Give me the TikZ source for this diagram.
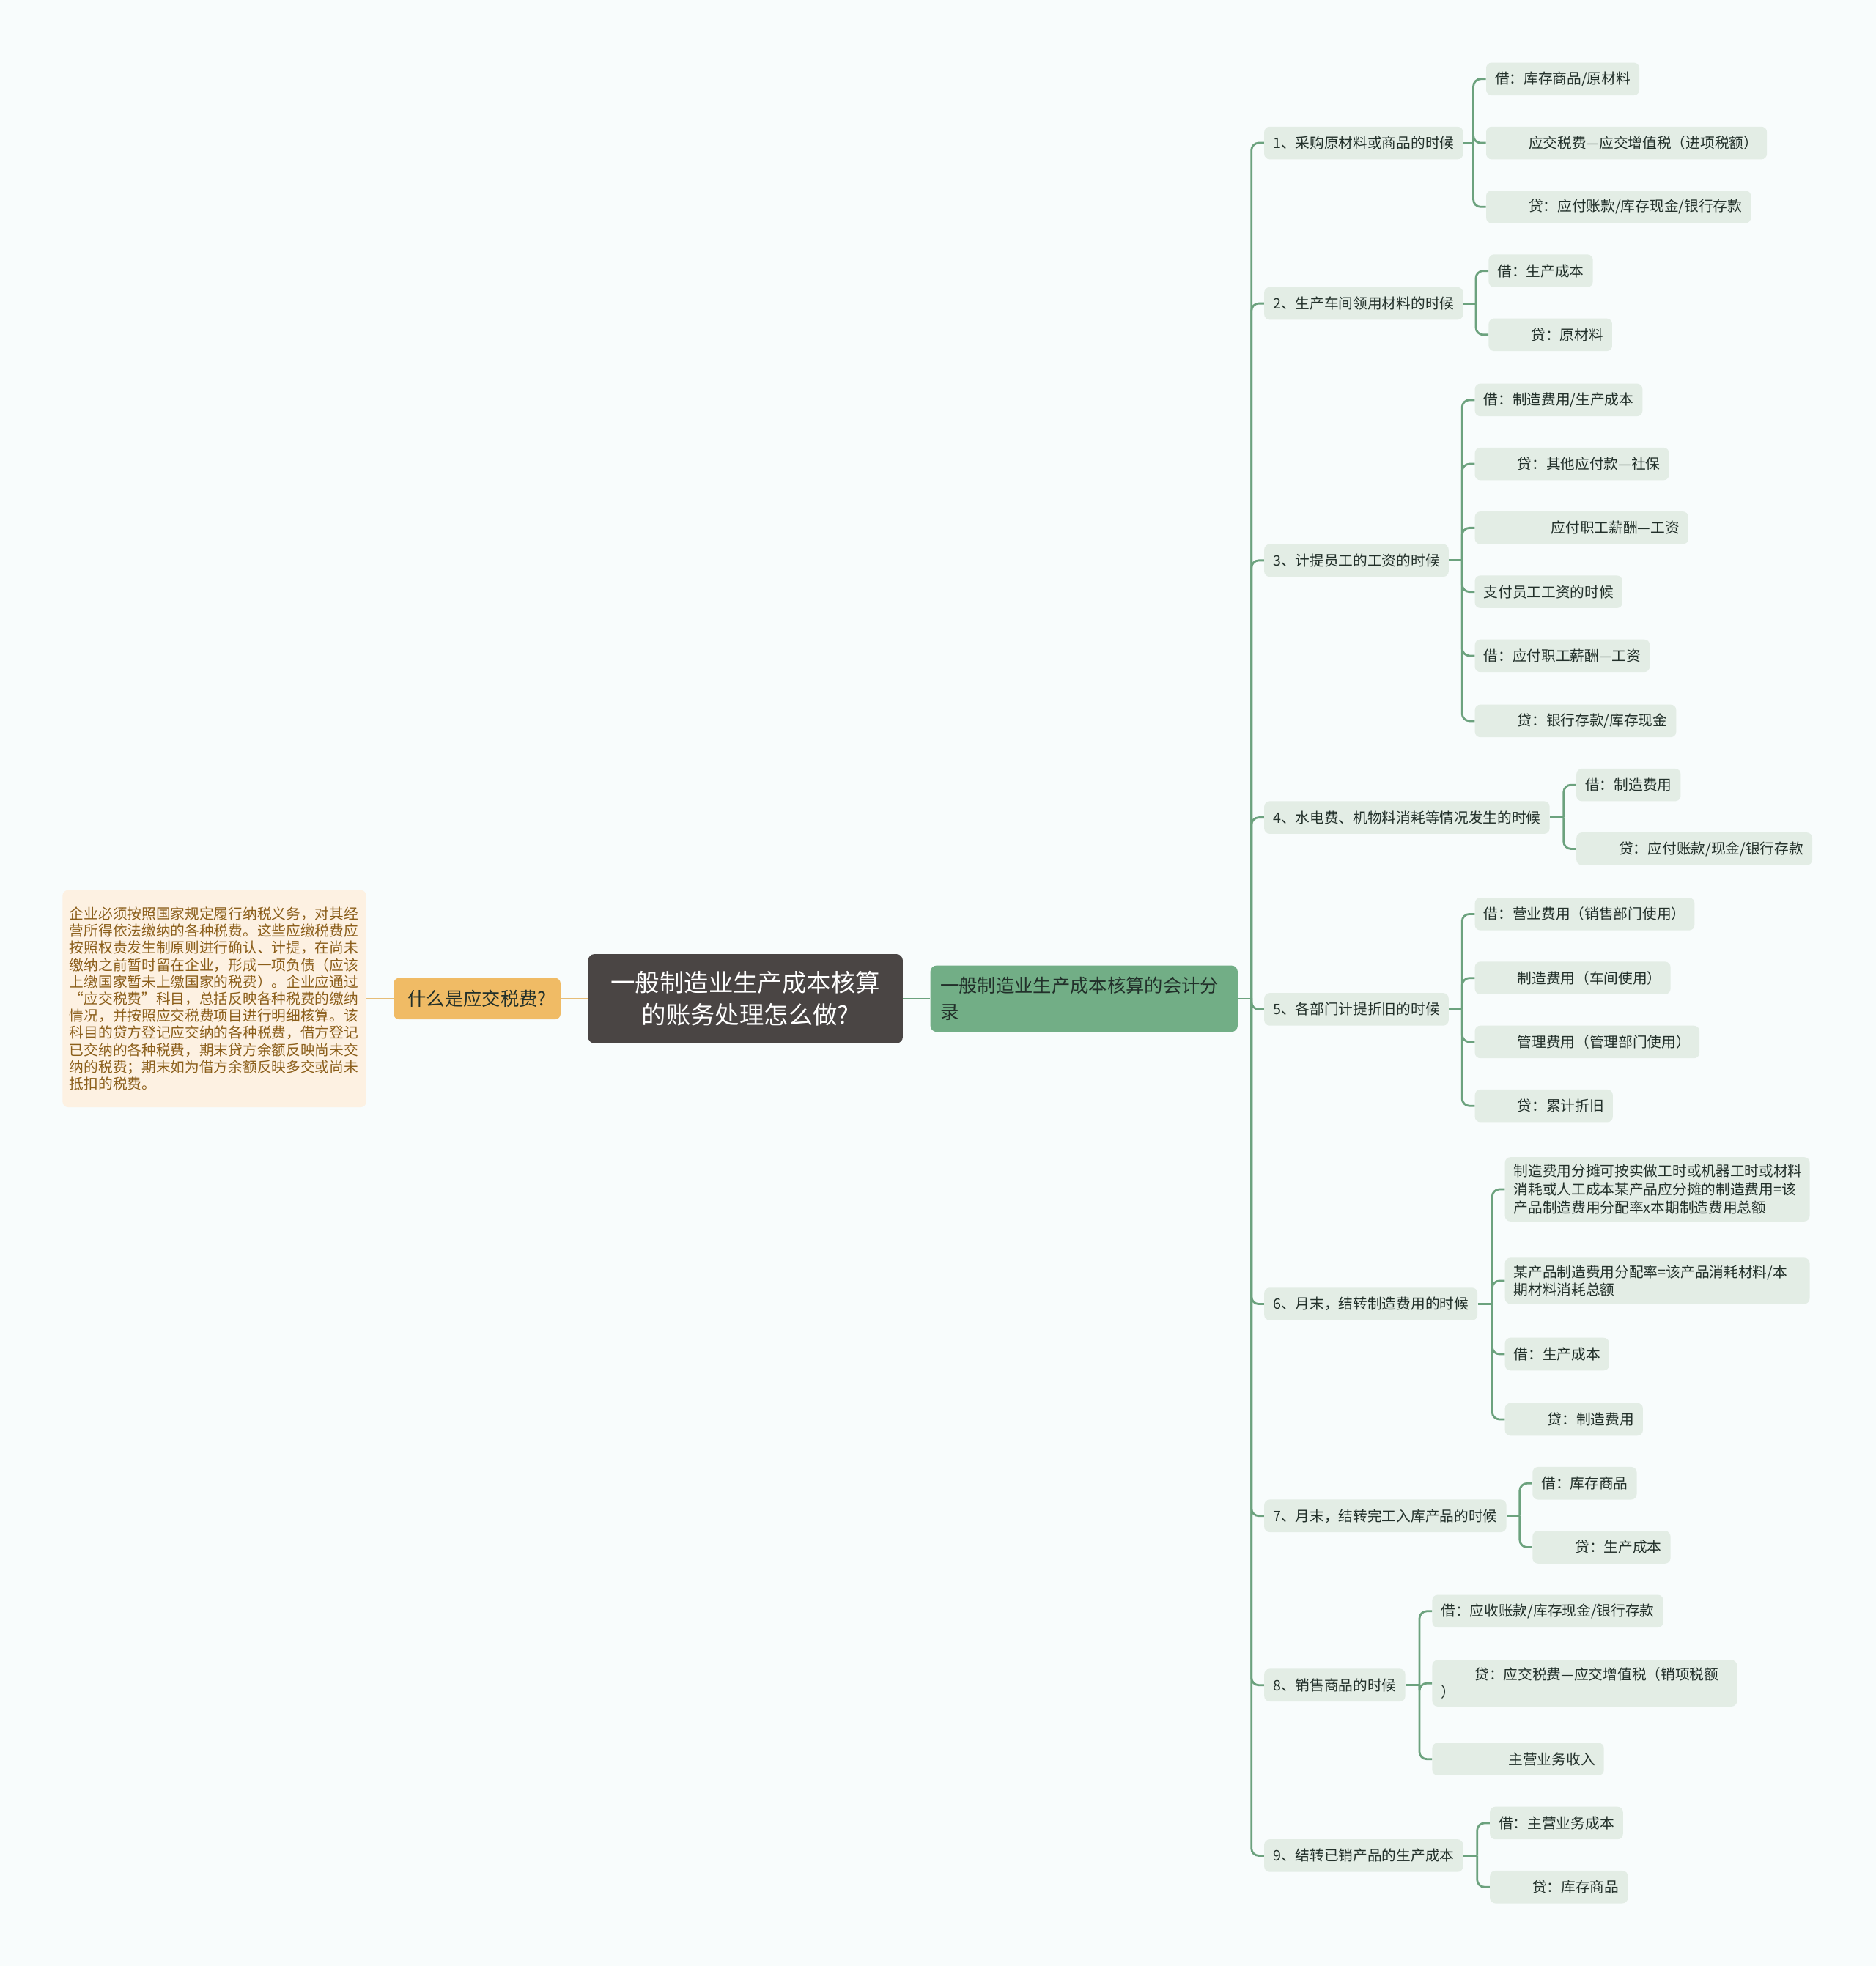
\documentclass[tikz,border=0pt]{standalone}
\usepackage{fontspec}
\setmainfont{Noto Sans CJK SC}
\usepackage{xcolor}
\usepackage{tikz}
\usetikzlibrary{positioning}

\definecolor{bgc}{HTML}{F8FCFC}
\definecolor{rootc}{HTML}{4A4544}
\definecolor{mainc}{HTML}{72AE86}
\definecolor{linec}{HTML}{6CA27E}
\definecolor{leafc}{HTML}{E3EDE5}
\definecolor{leaftext}{HTML}{22302A}
\definecolor{taxc}{HTML}{F0BB65}
\definecolor{taxline}{HTML}{E6BD78}
\definecolor{notec}{HTML}{FDF1E2}
\definecolor{notetext}{HTML}{8B5E1A}
\newcommand{\pad}{\hspace*{0.92cm}}

\begin{document}
\begin{tikzpicture}[
    x=0.0342cm, y=-0.0342cm,
    root/.style={fill=rootc, rounded corners=0.17cm, text=white, align=center,
      font=\fontsize{19}{25.2}\selectfont, minimum width=8.58cm, minimum height=2.43cm},
    calcnode/.style={fill=mainc, rounded corners=0.17cm, text=leaftext, align=left,
      font=\fontsize{14.4}{20.4}\selectfont, text width=7.84cm, inner xsep=0.27cm,
      minimum height=1.81cm},
    taxnode/.style={fill=taxc, rounded corners=0.15cm, text=leaftext,
      font=\fontsize{14.4}{18}\selectfont, minimum width=4.55cm, minimum height=1.13cm},
    note/.style={fill=notec, rounded corners=0.15cm, text=notetext, align=left,
      font=\fontsize{11.2}{13.2}\selectfont, text width=7.9cm, inner xsep=0.19cm,
      minimum height=5.92cm},
    leaf/.style={fill=leafc, rounded corners=0.15cm, text=leaftext, align=left,
      font=\fontsize{11.2}{14}\selectfont, inner xsep=0.24cm, inner ysep=0.2cm,
      minimum height=0.89cm, anchor=west},
    wide/.style={leaf, text width=7.83cm},
    link/.style={draw=linec, line width=1.6pt, rounded corners=0.2cm},
    taxlink/.style={draw=taxline, line width=1.6pt}
]
\fill[bgc] (0,0) rectangle (1496,1568);
\useasboundingbox (0,0) rectangle (1496,1568);

% centre and left side
\node[root] (root) at (594.5,796.5) {一般制造业生产成本核算\\的账务处理怎么做?};
\node[calcnode] (calc) at (864.5,796.5) {一般制造业生产成本核算的会计分\\录};
\node[taxnode] (tax) at (380.5,796.5) {什么是应交税费?};
\node[note] (note) at (171,796.5) {企业必须按照国家规定履行纳税义务，对其经\\
营所得依法缴纳的各种税费。这些应缴税费应\\
按照权责发生制原则进行确认、计提，在尚未\\
缴纳之前暂时留在企业，形成一项负债（应该\\
上缴国家暂未上缴国家的税费）。企业应通过\\
“应交税费”科目，总括反映各种税费的缴纳\\
情况，并按照应交税费项目进行明细核算。该\\
科目的贷方登记应交纳的各种税费，借方登记\\
已交纳的各种税费，期末贷方余额反映尚未交\\
纳的税费；期末如为借方余额反映多交或尚未\\
抵扣的税费。};
\draw[link] (root.east) -- (calc.west);
\draw[taxlink] (root.west) -- (tax.east);
\draw[taxlink] (tax.west) -- (note.east);

% first level
\node[leaf] (s1) at (1008,114)  {1、采购原材料或商品的时候};
\node[leaf] (s2) at (1008,242)  {2、生产车间领用材料的时候};
\node[leaf] (s3) at (1008,447)  {3、计提员工的工资的时候};
\node[leaf] (s4) at (1008,652)  {4、水电费、机物料消耗等情况发生的时候};
\node[leaf] (s5) at (1008,805)  {5、各部门计提折旧的时候};
\node[leaf] (s6) at (1008,1040) {6、月末，结转制造费用的时候};
\node[leaf] (s7) at (1008,1209) {7、月末，结转完工入库产品的时候};
\node[leaf] (s8) at (1008,1344) {8、销售商品的时候};
\node[leaf] (s9) at (1008,1480) {9、结转已销产品的生产成本};
\coordinate (hub) at (998,796.5);
\draw[link] (calc.east) -- (hub);
\foreach \n in {1,...,9}
  \draw[link] (hub) |- (s\n.west);

% second level
\node[leaf] (s1a) at (1185,63)  {借：库存商品/原材料};
\node[leaf] (s1b) at (1185,114) {\pad 应交税费—应交增值税（进项税额）};
\node[leaf] (s1c) at (1185,165) {\pad 贷：应付账款/库存现金/银行存款};
\coordinate (b1) at (1175,114);

\node[leaf] (s2a) at (1187,216) {借：生产成本};
\node[leaf] (s2b) at (1187,267) {\pad 贷：原材料};
\coordinate (b2) at (1177,242);

\node[leaf] (s3a) at (1176,319) {借：制造费用/生产成本};
\node[leaf] (s3b) at (1176,370) {\pad 贷：其他应付款—社保};
\node[leaf] (s3c) at (1176,421) {\pad\pad 应付职工薪酬—工资};
\node[leaf] (s3d) at (1176,472) {支付员工工资的时候};
\node[leaf] (s3e) at (1176,523) {借：应付职工薪酬—工资};
\node[leaf] (s3f) at (1176,575) {\pad 贷：银行存款/库存现金};
\coordinate (b3) at (1166,447);

\node[leaf] (s4a) at (1257,626) {借：制造费用};
\node[leaf] (s4b) at (1257,677) {\pad 贷：应付账款/现金/银行存款};
\coordinate (b4) at (1247,652);

\node[leaf] (s5a) at (1176,729) {借：营业费用（销售部门使用）};
\node[leaf] (s5b) at (1176,780) {\pad 制造费用（车间使用）};
\node[leaf] (s5c) at (1176,831) {\pad 管理费用（管理部门使用）};
\node[leaf] (s5d) at (1176,882) {\pad 贷：累计折旧};
\coordinate (b5) at (1166,805);

\node[wide] (s6a) at (1200,948.5) {制造费用分摊可按实做工时或机器工时或材料\\消耗或人工成本某产品应分摊的制造费用=该\\产品制造费用分配率x本期制造费用总额};
\node[wide] (s6b) at (1200,1021.5) {某产品制造费用分配率=该产品消耗材料/本\\期材料消耗总额};
\node[leaf] (s6c) at (1200,1080) {借：生产成本};
\node[leaf] (s6d) at (1200,1132) {\pad 贷：制造费用};
\coordinate (b6) at (1190,1040);

\node[leaf] (s7a) at (1222,1183) {借：库存商品};
\node[leaf] (s7b) at (1222,1234) {\pad 贷：生产成本};
\coordinate (b7) at (1212,1209);

\node[leaf] (s8a) at (1142,1285) {借：应收账款/库存现金/银行存款};
\node[wide] (s8b) at (1142,1342.5) {\pad 贷：应交税费—应交增值税（销项税额\\）};
\node[leaf] (s8c) at (1142,1403) {\pad\pad 主营业务收入};
\coordinate (b8) at (1132,1344);

\node[leaf] (s9a) at (1188,1454) {借：主营业务成本};
\node[leaf] (s9b) at (1188,1505) {\pad 贷：库存商品};
\coordinate (b9) at (1178,1480);

\foreach \n/\kids in {1/{a,b,c}, 2/{a,b}, 3/{a,b,c,d,e,f}, 4/{a,b},
    5/{a,b,c,d}, 6/{a,b,c,d}, 7/{a,b}, 8/{a,b,c}, 9/{a,b}} {
  \draw[link] (s\n.east) -- (b\n);
  \foreach \k in \kids
    \draw[link] (b\n) |- (s\n\k.west);
}
\end{tikzpicture}
\end{document}
